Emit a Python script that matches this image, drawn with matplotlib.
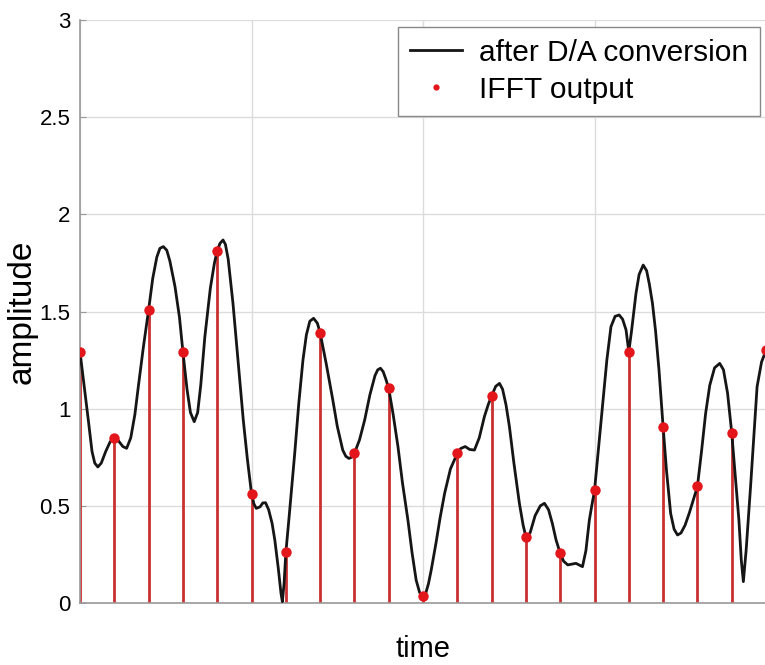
import numpy as np
import matplotlib
matplotlib.use('Agg')
import matplotlib.pyplot as plt
from matplotlib.lines import Line2D

plt.rcParams['font.family'] = ['Liberation Sans', 'DejaVu Sans']

# IFFT output samples (one per sample index)
sample_idx = np.arange(21)
sample_val = [1.29, 0.85, 1.51, 1.29, 1.81, 0.56, 0.26, 1.39, 0.77, 1.105,
              0.035, 0.77, 1.065, 0.34, 0.255, 0.58, 1.29, 0.905, 0.60, 0.875, 1.30]

# continuous signal after D/A conversion
curve_t = [0.00, 0.12, 0.25, 0.35, 0.43, 0.52, 0.62, 0.75, 0.88, 1.00,
           1.12, 1.25, 1.36, 1.48, 1.60, 1.70, 1.85, 2.00, 2.12, 2.24,
           2.33, 2.43, 2.53, 2.62, 2.77, 2.90, 3.00, 3.12, 3.22, 3.33,
           3.43, 3.52, 3.64, 3.80, 3.92, 4.00, 4.08, 4.17, 4.24, 4.32,
           4.46, 4.60, 4.76, 4.88, 5.00, 5.07, 5.14, 5.25, 5.33, 5.41,
           5.50, 5.60, 5.68, 5.78, 5.86, 5.90, 5.95, 6.00, 6.10, 6.26,
           6.38, 6.50, 6.60, 6.70, 6.81, 6.92, 7.00, 7.18, 7.37, 7.50,
           7.66, 7.75, 7.84, 7.92, 8.00, 8.15, 8.30, 8.45, 8.60, 8.68,
           8.76, 8.84, 8.92, 9.00, 9.13, 9.27, 9.40, 9.56, 9.68, 9.80,
           9.90, 9.99, 10.08, 10.16, 10.24, 10.38, 10.50, 10.63, 10.80, 11.00,
           11.10, 11.23, 11.36, 11.50, 11.64, 11.79, 11.90, 12.00, 12.12, 12.23,
           12.32, 12.42, 12.52, 12.65, 12.81, 12.92, 13.00, 13.12, 13.27, 13.42,
           13.54, 13.66, 13.77, 13.88, 14.00, 14.10, 14.22, 14.34, 14.46, 14.56,
           14.65, 14.75, 14.85, 14.92, 15.00, 15.12, 15.24, 15.36, 15.48, 15.60,
           15.72, 15.82, 15.92, 16.00, 16.08, 16.21, 16.30, 16.42, 16.52, 16.60,
           16.69, 16.78, 16.88, 17.00, 17.10, 17.22, 17.32, 17.42, 17.52, 17.64,
           17.76, 17.88, 18.00, 18.12, 18.24, 18.36, 18.50, 18.65, 18.76, 18.88,
           19.00, 19.10, 19.21, 19.28, 19.34, 19.42, 19.48, 19.55, 19.65, 19.74,
           19.87, 20.00]
curve_a = [1.293, 1.12, 0.93, 0.78, 0.72, 0.70, 0.72, 0.78, 0.83, 0.847,
           0.835, 0.805, 0.796, 0.85, 0.97, 1.113, 1.32, 1.508, 1.67, 1.78,
           1.825, 1.834, 1.815, 1.76, 1.628, 1.47, 1.293, 1.10, 0.98, 0.933,
           0.98, 1.12, 1.37, 1.62, 1.75, 1.812, 1.85, 1.868, 1.845, 1.77,
           1.542, 1.26, 0.942, 0.74, 0.564, 0.51, 0.487, 0.495, 0.515, 0.516,
           0.48, 0.41, 0.324, 0.18, 0.05, 0.007, 0.10, 0.256, 0.45, 0.770,
           1.03, 1.25, 1.38, 1.45, 1.465, 1.44, 1.391, 1.23, 1.045, 0.91,
           0.787, 0.755, 0.744, 0.75, 0.770, 0.84, 0.942, 1.07, 1.17, 1.20,
           1.208, 1.19, 1.15, 1.105, 0.97, 0.805, 0.62, 0.427, 0.26, 0.118,
           0.055, 0.033, 0.05, 0.10, 0.17, 0.31, 0.44, 0.564, 0.69, 0.770,
           0.795, 0.805, 0.79, 0.787, 0.85, 0.959, 1.02, 1.065, 1.115, 1.13,
           1.10, 1.02, 0.907, 0.72, 0.513, 0.40, 0.341, 0.36, 0.45, 0.50,
           0.513, 0.48, 0.41, 0.324, 0.256, 0.215, 0.196, 0.20, 0.204, 0.195,
           0.187, 0.27, 0.427, 0.50, 0.578, 0.80, 1.027, 1.25, 1.422, 1.475,
           1.482, 1.46, 1.405, 1.293, 1.40, 1.594, 1.69, 1.739, 1.71, 1.64,
           1.542, 1.40, 1.2, 0.907, 0.68, 0.461, 0.38, 0.35, 0.36, 0.40,
           0.461, 0.53, 0.599, 0.78, 0.976, 1.12, 1.21, 1.233, 1.20, 1.079,
           0.877, 0.66, 0.427, 0.22, 0.11, 0.27, 0.42, 0.599, 0.87, 1.113,
           1.24, 1.30]

yticks = [0, 0.5, 1, 1.5, 2, 2.5, 3]
ytick_labels = ['0', '0.5', '1', '1.5', '2', '2.5', '3']

fig = plt.figure(figsize=(7.65, 6.65), dpi=100)
ax = fig.add_axes([80/765, 62/665, 686/765, 583/665])

ax.vlines(sample_idx, 0, sample_val, color='#c9302f', lw=2.0, zorder=2)
ax.plot(curve_t, curve_a, color='#151515', lw=2.0, zorder=3,
        solid_joinstyle='round', solid_capstyle='round')
ax.plot(sample_idx, sample_val, 'o', color='#e3161b', ms=7.5, mec='none', zorder=4)

ax.set_xlim(0, 20)
ax.set_ylim(0, 3)
ax.set_xticks([0, 5, 10, 15, 20])
ax.set_xticklabels([])
ax.set_yticks(yticks)
ax.set_yticklabels(ytick_labels)
ax.grid(True, color='#dcdcdc', lw=1.0)
ax.set_axisbelow(True)
ax.tick_params(direction='in', length=4, color='#999999', labelsize=16, pad=7)
for side in ['top', 'right']:
    ax.spines[side].set_visible(False)
for side in ['left', 'bottom']:
    ax.spines[side].set_color('#999999')
    ax.spines[side].set_linewidth(1.2)

ax.set_xlabel('time', fontsize=21, labelpad=16)
ax.set_ylabel('amplitude', fontsize=24, labelpad=1)

handles = [Line2D([], [], color='#151515', lw=2.0),
           Line2D([], [], ls='none', marker='o', color='#e3161b', ms=4.5, mec='none')]
leg = fig.legend(handles, ['after D/A conversion', 'IFFT output'],
                 loc='upper right', bbox_to_anchor=(760/765, 1 - 27/665),
                 fontsize=21.5, frameon=True, fancybox=False, framealpha=1,
                 edgecolor='#888888', handlelength=1.75, handletextpad=0.57,
                 labelspacing=0.3, borderpad=0.4, borderaxespad=0)
leg.get_frame().set_linewidth(1.0)

fig.savefig('out.png', dpi=100)
